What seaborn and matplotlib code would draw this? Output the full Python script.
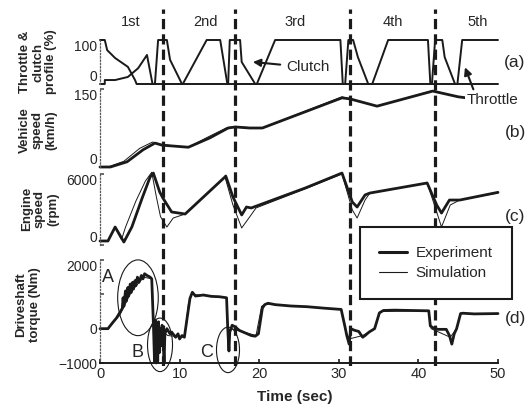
import matplotlib
matplotlib.use("Agg")
import matplotlib.pyplot as plt
from matplotlib.patches import Ellipse
import seaborn as sns

# ==========================================
# 数据
# ==========================================
gear_shift_t = [7.9, 17.0, 31.4, 42.1]
gear_names = ['1st', '2nd', '3rd', '4th', '5th']
gear_label_t = [3.8, 13.2, 24.5, 36.8, 47.4]

# (a) throttle & clutch profile (%)
throttle_t = [0, 0.6, 0.6, 1.9, 3.5, 4.8, 5.9, 6.6, 10.4, 13.4, 15.1, 16.0, 19.7, 22.0, 30.2, 30.5,
              34.2, 36.2, 41.2, 41.5, 44.9, 45.5, 50]
throttle_v = [0, 0, 9, 9, 16, 36, 66, 0, 0, 100, 100, 0, 0, 100, 100, 0,
              0, 100, 100, 0, 0, 100, 100]
clutch_t = [0, 0.6, 0.9, 1.9, 3.5, 4.4, 4.6, 6.9, 7.3, 8.4, 8.8, 10.3, 16.1, 16.3, 17.6, 17.8, 19.5,
            30.8, 31.2, 31.8, 32.4, 33.7, 41.7, 42.1, 43.0, 43.3, 44.6, 50]
clutch_v = [100, 100, 77, 59, 39, 9, 0, 0, 100, 100, 55, 0, 0, 100, 100, 50, 0,
            0, 100, 100, 61, 0, 0, 100, 100, 61, 0, 0]

# (b) vehicle speed (km/h)
speed_exp_t = [0, 1.3, 3.4, 5.4, 6.9, 7.8, 11.1, 13.8, 16.1, 17.0, 18.8, 20.4, 30.4, 31.4, 34.8, 41.8, 45.0, 50]
speed_exp_v = [0, 0, 10, 33, 46, 42, 38, 56, 75, 77, 75, 75, 133, 131, 117, 146, 135, 125]
speed_sim_t = [0, 1.0, 3.0, 5.0, 6.6, 7.8, 11.1, 13.6, 16.0, 17.0, 20.4, 30.4, 31.4, 34.8, 41.8, 45.0, 50]
speed_sim_v = [0, 0, 11, 36, 48, 43, 38, 58, 76, 77, 75, 135, 131, 117, 147, 135, 125]

# (c) engine speed (rpm)
engine_exp_t = [0, 1.0, 1.9, 3.0, 4.0, 5.3, 6.3, 6.7, 7.5, 7.9, 9.0, 10.7, 15.7, 15.8, 16.7, 17.8, 18.4,
                19.0, 25.8, 30.4, 31.7, 32.3, 33.3, 33.9, 41.1, 42.3, 42.9, 43.9, 45.2, 50]
engine_exp_v = [340, 340, 1520, 250, 1520, 3970, 5750, 6080, 4480, 3970, 2790, 2620, 5750, 5830, 4060, 2540,
                3210, 3130, 4820, 6080, 3630, 3210, 4230, 4390, 5240, 3380, 2700, 3800, 3800, 4450]
engine_sim_t = [0, 1.0, 1.9, 2.7, 3.2, 4.5, 5.7, 6.5, 7.1, 7.6, 8.4, 9.2, 10.7, 15.7, 16.7, 17.8, 18.8,
                19.6, 25.8, 30.4, 31.7, 32.3, 33.3, 33.9, 41.1, 42.3, 42.9, 44.0, 45.2, 50]
engine_sim_v = [340, 340, 1450, 450, 1500, 3700, 5400, 6150, 4000, 2400, 1520, 2280, 2620, 5750, 3380, 1440,
                2370, 3130, 4750, 6000, 2960, 2280, 3800, 4390, 5240, 2790, 1520, 3380, 3800, 4400]

# (d) driveshaft torque (Nm)
torque_exp_t = [0, 1.0, 1.5, 2.1, 2.8, 2.9, 3.0, 3.2, 3.3, 3.5, 3.6, 3.8, 3.9, 4.1, 4.2, 4.4, 4.5, 4.7, 4.9,
                5.2, 5.4, 5.6, 5.9, 6.3, 6.5, 6.7, 6.85, 6.95, 7.05, 7.15, 7.25, 7.35, 7.45, 7.55, 7.7, 7.8,
                7.95, 8.05, 8.15, 8.4, 8.8, 9.0, 9.5, 9.8, 10.0, 10.3, 10.6, 11.0, 11.3, 11.6, 12.0, 13.0,
                14.0, 15.0, 15.9, 16.05, 16.2, 16.3, 16.6, 17.0, 17.5, 18.0, 18.5, 19.0, 19.5, 19.9, 20.4,
                20.7, 21.1, 22.0, 24.0, 26.0, 28.0, 30.3, 30.8, 31.0, 31.3, 31.5, 32.0, 32.5, 33.0, 33.3,
                33.8, 34.5, 35.1, 35.6, 37.0, 39.0, 41.3, 41.5, 42.0, 42.5, 43.5, 43.9, 44.2, 44.5, 44.8,
                45.3, 45.6, 47.0, 50]
torque_exp_v = [0, 0, 150, 320, 590, 900, 650, 1100, 800, 1200, 950, 1300, 1050, 1350, 1150, 1400, 1250, 1500,
                1350, 1550, 1450, 1600, 1550, 1500, 1450, 200, -950, 250, -1000, 100, -950, 200, -700, 0, -500,
                100, -400, -1000, -150, 0, -150, -100, -250, -150, -300, -200, -250, 400, 880, 1060, 950, 980,
                940, 930, 900, 0, -650, -100, 100, 50, -50, -100, -150, -200, -220, -150, 600,
                700, 740, 700, 660, 640, 600, 560, 30, -200, -450, 0, -50, -80, -250, -200,
                -100, 0, 460, 530, 540, 530, 520, 80, 0, -20, -20, -200, -450, -150, 0,
                440, 450, 430, 440]
torque_sim_t = [0, 1.0, 2.5, 4.0, 5.5, 6.5, 6.7, 7.0, 7.3, 7.6, 8.0, 8.5, 10.6, 11.1, 11.5, 15.9, 16.1, 16.5,
                19.6, 20.3, 20.8, 30.3, 30.9, 31.3, 33.0, 34.5, 35.2, 41.3, 41.6, 44.0, 44.8, 45.3, 50]
torque_sim_v = [0, 0, 400, 1100, 1500, 1450, 100, -700, 200, -300, -100, -200, -250, 700, 1000, 900, -300, 0,
                -200, 650, 720, 560, -100, -300, -200, 0, 500, 520, 0, -250, 0, 440, 440]

W, H = 530, 415


def px_axes(fig, top, bottom, left=100, right=498):
    return fig.add_axes([left / W, 1 - bottom / H, (right - left) / W, (bottom - top) / H])


sns.set_theme(style="white")
plt.rcParams['font.family'] = ['Liberation Sans', 'DejaVu Sans']

fig = plt.figure(figsize=(W / 100, H / 100), dpi=100)

ax_a = px_axes(fig, 40, 84)
ax_b = px_axes(fig, 89, 167)
ax_c = px_axes(fig, 174, 245)
ax_d = px_axes(fig, 260, 363)

# (a)
sns.lineplot(x=throttle_t, y=throttle_v, ax=ax_a, color='k', linewidth=1.4, estimator=None, sort=False)
sns.lineplot(x=clutch_t, y=clutch_v, ax=ax_a, color='k', linewidth=1.4, estimator=None, sort=False)
ax_a.set_ylim(0, 100)
ax_a.set_yticks([0, 100])

# (b)
sns.lineplot(x=speed_sim_t, y=speed_sim_v, ax=ax_b, color='k', linewidth=0.7, estimator=None, sort=False)
sns.lineplot(x=speed_exp_t, y=speed_exp_v, ax=ax_b, color='k', linewidth=2.0, estimator=None, sort=False)
ax_b.set_ylim(0, 150)
ax_b.set_yticks([0, 150])

# (c)
sns.lineplot(x=engine_sim_t, y=engine_sim_v, ax=ax_c, color='k', linewidth=0.7, estimator=None, sort=False)
sns.lineplot(x=engine_exp_t, y=engine_exp_v, ax=ax_c, color='k', linewidth=2.0, estimator=None, sort=False)
ax_c.set_ylim(0, 6000)
ax_c.set_yticks([0, 6000])

# (d)
sns.lineplot(x=torque_sim_t, y=torque_sim_v, ax=ax_d, color='k', linewidth=0.7, estimator=None, sort=False)
sns.lineplot(x=torque_exp_t, y=torque_exp_v, ax=ax_d, color='k', linewidth=2.0, estimator=None, sort=False)
ax_d.set_ylim(-1000, 2000)
ax_d.set_yticks([-1000, 0, 1000, 2000])
ax_d.set_yticklabels(['\u22121000', '0', '', '2000'])

for ax in [ax_a, ax_b, ax_c, ax_d]:
    ax.set_xlim(0, 50)
    ax.set_facecolor('none')
    ax.set_ylabel('')
    ax.set_xlabel('')
    for ln in ax.get_lines():
        ln.set_clip_on(False)
    for s in ['top', 'right', 'bottom']:
        ax.spines[s].set_visible(False)
    ax.spines['left'].set_linestyle(':')
    ax.spines['left'].set_color('0.35')
    ax.spines['left'].set_linewidth(0.9)
    ax.tick_params(axis='y', direction='in', length=3, pad=2, labelsize=10, color='0.35', left=True)
    if ax is not ax_d:
        ax.set_xticks([])
        # 上下相邻的刻度标签错开一点，避免重叠
        lbls = ax.get_yticklabels()
        lbls[0].set_verticalalignment('bottom')
        lbls[-1].set_verticalalignment('top')
    else:
        lbls = ax.get_yticklabels()
        lbls[-1].set_verticalalignment('top')

ax_d.spines['bottom'].set_visible(True)
ax_d.spines['bottom'].set_color('k')
ax_d.spines['bottom'].set_linewidth(1.4)
ax_d.set_xticks([0, 10, 20, 30, 40, 50])
ax_d.tick_params(axis='x', direction='in', length=3, pad=3, labelsize=10.5, bottom=True)

# y labels
ylabels = [("Throttle &\nclutch\nprofile (%)", 38, 62),
           ("Vehicle\nspeed\n(km/h)", 38, 130),
           ("Engine\nspeed\n(rpm)", 40, 209),
           ("Driveshaft\ntorque (Nm)", 28, 305)]
for txt, xp, yp in ylabels:
    fig.text(xp / W, 1 - yp / H, txt, rotation=90, ha='center', va='center',
             fontsize=9.5, fontweight='bold', linespacing=1.15)

fig.text(295 / W, 1 - 397 / H, 'Time (sec)', ha='center', va='center', fontsize=11, fontweight='bold')

# panel tags
for tag, yp in zip(['(a)', '(b)', '(c)', '(d)'], [63, 133, 216, 318]):
    fig.text(515 / W, 1 - yp / H, tag, ha='center', va='center', fontsize=12.5)

# annotations
ax_a.annotate('Clutch', xy=(19.2, 50), xytext=(23.4, 38), ha='left', va='center', fontsize=11,
              arrowprops=dict(arrowstyle='-|>', color='k', lw=1.5, mutation_scale=11, shrinkA=2, shrinkB=0),
              annotation_clip=False)
ax_b.annotate('Throttle', xy=(45.85, 38), xycoords=ax_a.transData, xytext=(46.1, 129), textcoords='data',
              ha='left', va='center', fontsize=11, annotation_clip=False, zorder=10,
              bbox=dict(boxstyle='square,pad=0.15', fc='white', ec='none'),
              arrowprops=dict(arrowstyle='-|>', color='k', lw=1.5, mutation_scale=11, shrinkA=1, shrinkB=0,
                              relpos=(0.15, 1.0)))

# ellipses A, B, C
for (cx, cy, w, h), lbl, (lx, ly) in zip([(4.77, 900, 5.1, 2206), (7.54, -471, 3.14, 1559), (16.08, -618, 2.89, 1324)],
                                         ['A', 'B', 'C'],
                                         [(1.0, 1500), (4.65, -706), (13.4, -706)]):
    ax_d.add_patch(Ellipse((cx, cy), w, h, fill=False, ec='k', lw=0.8, clip_on=False, zorder=5))
    ax_d.text(lx, ly, lbl, ha='center', va='center', fontsize=13)

# overlay for shift lines and gear names
ax_o = px_axes(fig, 9, 366)
ax_o.set_xlim(0, 50)
ax_o.set_ylim(0, 1)
ax_o.axis('off')
ax_o.vlines(gear_shift_t, 0, 1, colors='k', linewidth=2.3, linestyles=(0, (3.2, 1.6)))
gear_y = 1 - (22 - 9) / (366 - 9)
for gt, gn in zip(gear_label_t, gear_names):
    ax_o.text(gt, gear_y, gn, ha='center', va='center', fontsize=10.5)

# legend
h_exp = plt.Line2D([], [], color='k', lw=2.2)
h_sim = plt.Line2D([], [], color='k', lw=0.8)
leg = fig.legend([h_exp, h_sim], ['Experiment', 'Simulation'], loc='upper left',
                 bbox_to_anchor=(360 / W, 1 - 227 / H), fontsize=11, frameon=True, fancybox=False,
                 edgecolor='k', framealpha=1, handlelength=1.8, handletextpad=0.6, borderpad=1.25,
                 labelspacing=0.4, borderaxespad=0)
leg.get_frame().set_linewidth(1.5)

fig.savefig('out.png', dpi=100)
